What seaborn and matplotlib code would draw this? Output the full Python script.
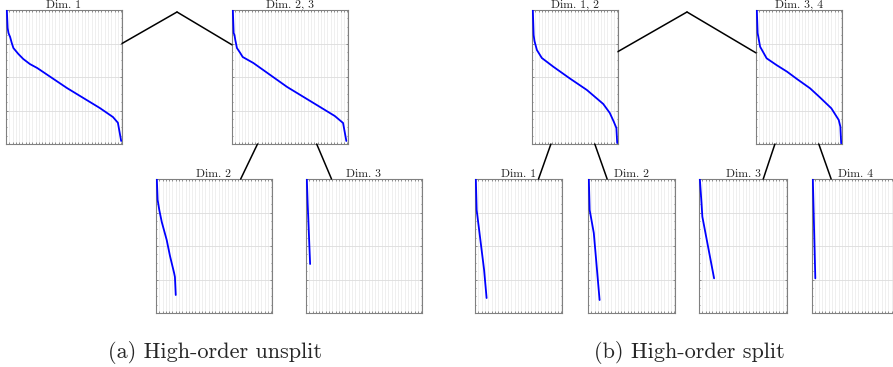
import matplotlib
matplotlib.use("Agg")
import matplotlib.pyplot as plt
from matplotlib.lines import Line2D
from matplotlib.ticker import MultipleLocator
import seaborn as sns

# Singular value decay per tree node: rank index and log10 of singular value
a_dim1_rank = [1, 2, 3, 4, 5, 7, 9, 15, 21, 29, 38, 74, 114, 130, 136, 140]
a_dim1_logsv = [0, -2.15, -2.75, -2.99, -3.22, -3.94, -4.54, -5.25, -5.85, -6.45,
                -6.93, -9.31, -11.70, -12.78, -13.46, -15.64]

a_dim23_rank = [1, 2, 3, 4, 6, 10, 13, 26, 67, 107, 125, 135, 139]
a_dim23_logsv = [0, -2.75, -2.99, -3.58, -4.54, -5.13, -5.61, -6.33, -9.19,
                 -11.58, -12.66, -13.49, -15.64]

a_dim2_rank = [1, 2, 4, 7, 13, 17, 22, 23, 24]
a_dim2_logsv = [0, -2.51, -3.70, -5.13, -7.28, -9.19, -11.22, -11.70, -13.85]

a_dim3_rank = [1, 2, 5]
a_dim3_logsv = [0, -2.87, -10.15]

b_dim12_rank = [1, 2, 3, 6, 12, 26, 46, 67, 87, 95, 100, 102, 103, 104]
b_dim12_logsv = [0, -2.99, -3.70, -4.78, -5.73, -6.77, -8.16, -9.55, -11.22,
                 -12.30, -13.37, -13.85, -14.09, -15.88]

b_dim34_rank = [1, 2, 5, 13, 25, 38, 50, 66, 78, 92, 101, 103, 104]
b_dim34_logsv = [0, -2.75, -4.38, -5.77, -6.57, -7.37, -8.24, -9.35, -10.43,
                 -11.74, -13.13, -13.93, -15.92]

b_dim1_rank = [1, 2, 11, 14]
b_dim1_logsv = [0, -3.70, -10.87, -14.21]

b_dim2_rank = [1, 2, 7, 14]
b_dim2_logsv = [0, -3.70, -6.45, -14.45]

b_dim3_rank = [1, 3, 4, 18]
b_dim3_logsv = [0, -2.87, -4.50, -11.86]

b_dim4_rank = [1, 4]
b_dim4_logsv = [0, -11.86]

captions = ["(a) High-order unsplit", "(b) High-order split"]

W, H = 893, 367
sns.set_theme(style="white")
plt.rcParams["axes.formatter.use_mathtext"] = True

fig = plt.figure(figsize=(W / 100, H / 100), dpi=100)


def box(l, t, w, h):
    return [l / W, 1 - (t + h) / H, w / W, h / H]


# layout in pixels: left, top, width, height, max rank on x
panels = [
    ("Dim. 1", (6, 10, 116, 134), 141, a_dim1_rank, a_dim1_logsv),
    ("Dim. 2, 3", (232, 10, 116, 134), 141, a_dim23_rank, a_dim23_logsv),
    ("Dim. 2", (156, 179, 116, 134), 141, a_dim2_rank, a_dim2_logsv),
    ("Dim. 3", (306, 179, 116, 134), 141, a_dim3_rank, a_dim3_logsv),
    ("Dim. 1, 2", (532, 10, 86, 134), 105, b_dim12_rank, b_dim12_logsv),
    ("Dim. 3, 4", (756, 10, 86, 134), 105, b_dim34_rank, b_dim34_logsv),
    ("Dim. 1", (475, 179, 87, 134), 105, b_dim1_rank, b_dim1_logsv),
    ("Dim. 2", (588, 179, 87, 134), 105, b_dim2_rank, b_dim2_logsv),
    ("Dim. 3", (699, 179, 88, 134), 105, b_dim3_rank, b_dim3_logsv),
    ("Dim. 4", (812, 179, 87, 134), 105, b_dim4_rank, b_dim4_logsv),
]

boxes = []
for title, b, xmax, ranks, logsv in panels:
    ax = fig.add_axes(box(*b))
    boxes.append(b)
    sns.lineplot(x=ranks, y=logsv, ax=ax, color="#0000ff", linewidth=1.3,
                 sort=False, zorder=3)
    ax.set_xlim(0, xmax)
    ax.set_ylim(-16, 0)
    ax.xaxis.set_major_locator(MultipleLocator(4))
    ax.yaxis.set_major_locator(MultipleLocator(4))
    ax.yaxis.set_minor_locator(MultipleLocator(1))
    ax.grid(True, axis="x", color="#ececec", linewidth=0.6)
    ax.grid(True, axis="y", which="major", color="#dcdcdc", linewidth=0.6)
    ax.tick_params(which="both", direction="in", top=True, right=True, bottom=True, left=True,
                   length=1.6, width=0.5, colors="#666666",
                   labelleft=False, labelbottom=False)
    ax.tick_params(which="minor", length=1.0)
    for s in ax.spines.values():
        s.set_color("#808080")
        s.set_linewidth(0.8)
    ax.set_title(title, fontsize=8.5, family="cmr10", pad=-1.5, color="#222222")


def px(x, y):
    return x / W, 1 - y / H


def link(p, q):
    (x1, y1), (x2, y2) = px(*p), px(*q)
    fig.add_artist(Line2D([x1, x2], [y1, y2], transform=fig.transFigure,
                          color="black", linewidth=1.1))


def top_link(lb, rb, frac_l, frac_r):
    lx, ly = lb[0] + lb[2], lb[1] + frac_l * lb[3]
    rx, ry = rb[0], rb[1] + frac_r * rb[3]
    apex = ((lx + rx) / 2, lb[1] + 2)
    link((lx, ly), apex)
    link(apex, (rx, ry))


def child_links(pb, cl, cr):
    bottom = pb[1] + pb[3]
    link((pb[0] + 0.22 * pb[2], bottom), (cl[0] + 0.73 * cl[2], cl[1]))
    link((pb[0] + 0.73 * pb[2], bottom), (cr[0] + 0.22 * cr[2], cr[1]))


top_link(boxes[0], boxes[1], 0.25, 0.26)
child_links(boxes[1], boxes[2], boxes[3])
top_link(boxes[4], boxes[5], 0.31, 0.32)
child_links(boxes[4], boxes[6], boxes[7])
child_links(boxes[5], boxes[8], boxes[9])

fig.text(215 / W, 1 - 352 / H, captions[0], ha="center", va="center",
         fontsize=16, family="cmr10")
fig.text(689 / W, 1 - 352 / H, captions[1], ha="center", va="center",
         fontsize=16, family="cmr10")

fig.savefig("out.png", dpi=100)
